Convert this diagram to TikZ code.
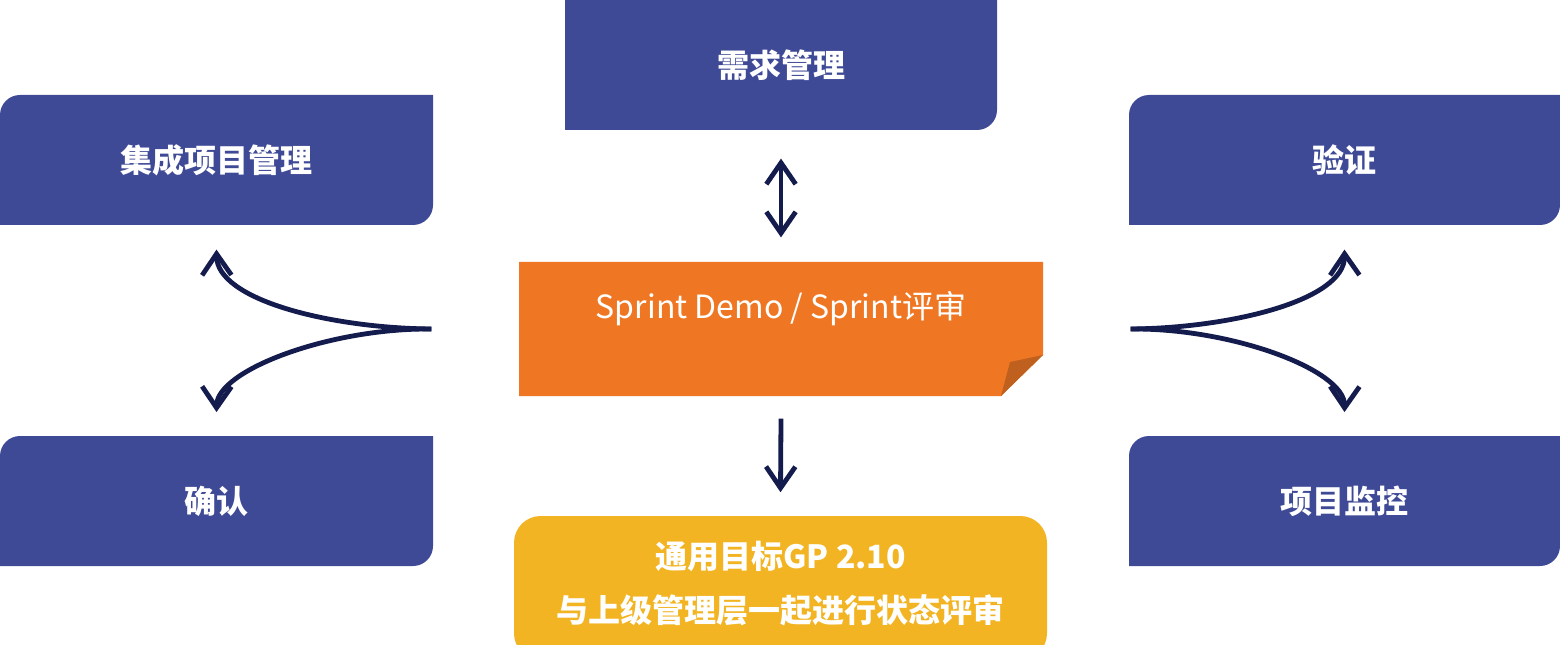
\documentclass[tikz,border=0pt]{standalone}
\usepackage{fontspec}
\setmainfont{Noto Sans CJK SC}
\usetikzlibrary{arrows.meta}
\definecolor{boxblue}{HTML}{3F4A96}
\definecolor{orng}{HTML}{EF7723}
\definecolor{fold}{HTML}{C0601E}
\definecolor{yel}{HTML}{F2B422}
\definecolor{arr}{HTML}{141B4D}
\begin{document}
\begin{tikzpicture}[x=0.75pt,y=-0.75pt,
  lbl/.style={text=white,font=\fontsize{24}{30}\selectfont\bfseries,inner sep=0pt},
  conn/.style={draw=arr,line width=3.6pt,-{Straight Barb[length=16pt,width=22pt,line width=3.6pt]}},
  bb/.style={fill=boxblue}]
\useasboundingbox (0,0) rectangle (1560,645);
% blue boxes: top-left and bottom-right rounded
\newcommand{\mybox}[4]{\fill[boxblue] (#1,#4) -- (#1,#2+20) arc[start angle=180,end angle=270,radius=20] -- (#3,#2) -- (#3,#4-20) arc[start angle=0,end angle=90,radius=20] -- cycle;}
\fill[boxblue] (565,130) -- (565,0) -- (997,0) -- (997,110) arc[start angle=0,end angle=90,radius=20] -- cycle;
\mybox{0}{95}{433}{225}
\mybox{1129}{95}{1560}{225}
\mybox{0}{436}{433}{566}
\mybox{1129}{436}{1560}{566}
% orange note
\fill[orng] (519,262) -- (1043,262) -- (1043,355) -- (1001,396) -- (519,396) -- cycle;
\fill[fold] (1043,355) -- (1010,362) -- (1001,396) -- cycle;
% yellow
\fill[yel,rounded corners=20] (514,660) -- (514,516) -- (1047,516) -- (1047,660) -- cycle;
% nodes
\node[lbl,minimum width=432,minimum height=130] (req) at (781,65) {需求管理};
\node[lbl,minimum width=433,minimum height=130] (ipm) at (216.5,160) {集成项目管理};
\node[lbl,minimum width=431,minimum height=130] (ver) at (1344.5,160) {验证};
\node[lbl,minimum width=433,minimum height=130] (val) at (216.5,501) {确认};
\node[lbl,minimum width=431,minimum height=130] (pmc) at (1344.5,501) {项目监控};
\node[text=white,font=\fontsize{24}{30}\selectfont,inner sep=0pt,minimum width=524,minimum height=134] (sd) at (781,329) {};
\node[text=white,font=\fontsize{24}{30}\selectfont,inner sep=0pt] (sdt) at (781,309) {Sprint Demo / Sprint评审};
\node[text=white,align=center,font=\fontsize{24}{40}\selectfont\bfseries,inner sep=0pt,minimum width=533,minimum height=129] (gp) at (780.5,580.5) {};
\node[lbl] (gp1) at (780.5,556) {通用目标GP 2.10};
\node[lbl] (gp2) at (780.5,610) {与上级管理层一起进行状态评审};
% connectors
\draw[conn,{Straight Barb[length=16pt,width=22pt,line width=3.6pt]}-{Straight Barb[length=16pt,width=22pt,line width=3.6pt]}] ([yshift=-5pt]req.south) -- ([yshift=1.5pt]sd.north);
\draw[conn] (sd.south) -- ([yshift=1.5pt]gp.north);
\draw[conn] (sd.west) .. controls (330,328) and (217,300) .. ([yshift=-2pt]ipm.south);
\draw[conn] (sd.west) .. controls (330,328) and (217,370) .. ([yshift=1.5pt]val.north);
\draw[conn] (sd.east) .. controls (1232,328) and (1345,300) .. ([yshift=-2pt]ver.south);
\draw[conn] (sd.east) .. controls (1232,328) and (1345,370) .. ([yshift=1.5pt]pmc.north);
\end{tikzpicture}
\end{document}
